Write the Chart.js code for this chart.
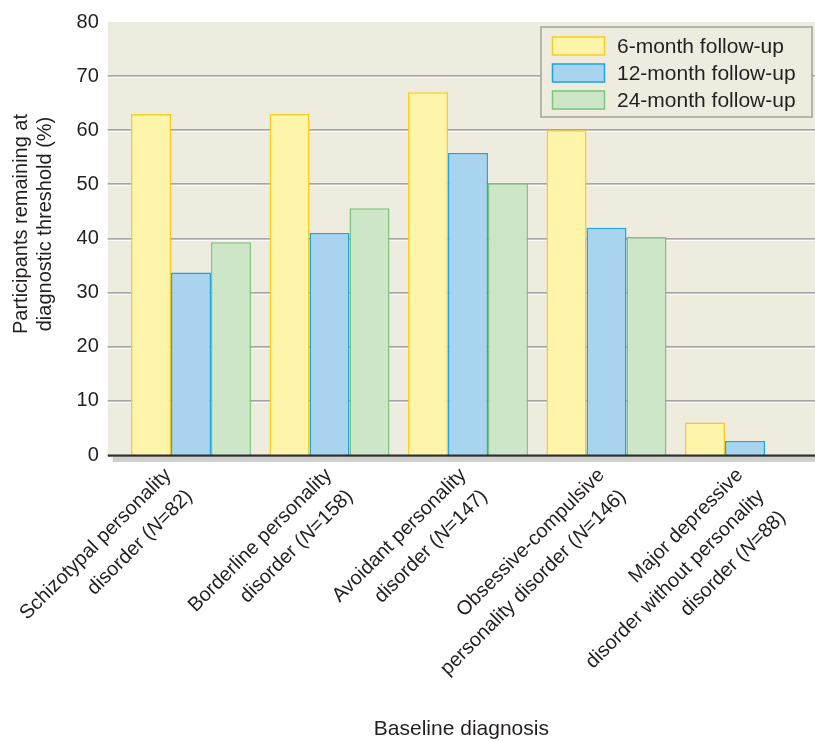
<!DOCTYPE html>
<html>
<head>
<meta charset="utf-8">
<script src="https://cdn.jsdelivr.net/npm/chart.js@4/dist/chart.umd.min.js"></script>
<style>
  html, body { margin: 0; padding: 0; background: #ffffff; }
  #wrap { width: 815px; height: 741px; position: relative; }
</style>
</head>
<body>
<div id="wrap"><canvas id="c" width="815" height="741"></canvas></div>
<script>
// Baseline diagnosis groups (label lines; a standalone "N" is set in italics)
const categories = [
  ['Schizotypal personality', 'disorder (N=82)'],
  ['Borderline personality', 'disorder (N=158)'],
  ['Avoidant personality', 'disorder (N=147)'],
  ['Obsessive-compulsive', 'personality disorder (N=146)'],
  ['Major depressive', 'disorder without personality', 'disorder (N=88)']
];

// Series names
const seriesNames = ['6-month follow-up', '12-month follow-up', '24-month follow-up'];

// Percent of participants remaining at diagnostic threshold
const sixMonth        = [63.0, 63.0, 67.0, 60.0, 6.0];
const twelveMonth     = [33.7, 41.0, 55.8, 42.0, 2.6];
const twentyFourMonth = [39.3, 45.6, 50.2, 40.3, 0.0];

// Value axis ticks
const yTicks = [0, 10, 20, 30, 40, 50, 60, 70, 80];

const xTitle = 'Baseline diagnosis';
const yTitle = ['Participants remaining at', 'diagnostic threshold (%)'];

const FONT = '"Liberation Sans", Arial, Helvetica, sans-serif';
const TEXT = '#231f20';
const PANEL = '#eeebdf';

const fills   = ['#fff5aa', '#a9d4ef', '#cde6c7'];
const borders = ['#fdcb1e', '#1ea5df', '#7cc57a'];

// small horizontal nudges for the slanted category labels
const labelNudge = [-18, 4, 0, 0, 0];

// Draws a line of text right-aligned at (x, y), italicising a lone "N"
function drawRich(ctx, text, x, y, size) {
  const parts = text.split(/(\bN\b)/).filter(p => p.length);
  const fontFor = p => (p === 'N' ? 'italic ' : '') + size + 'px ' + FONT;
  let total = 0;
  parts.forEach(p => { ctx.font = fontFor(p); total += ctx.measureText(p).width; });
  let cx = x - total;
  ctx.textAlign = 'left';
  parts.forEach(p => {
    ctx.font = fontFor(p);
    ctx.fillText(p, cx, y);
    cx += ctx.measureText(p).width;
  });
}

// Beige panel with engraved gridlines, drawn under the bars
const panelPlugin = {
  id: 'panel',
  beforeDatasetsDraw(chart) {
    const { ctx, chartArea, scales } = chart;
    const left = chartArea.left - 14;
    const right = chart.width;
    ctx.save();
    ctx.fillStyle = PANEL;
    ctx.fillRect(left, chartArea.top, right - left, chartArea.bottom - chartArea.top);
    yTicks.forEach(v => {
      if (v === yTicks[0] || v === yTicks[yTicks.length - 1]) return;
      const y = Math.round(scales.y.getPixelForValue(v));
      ctx.fillStyle = '#a6a6a4';
      ctx.fillRect(left, y - 1, right - left, 1.8);
      ctx.fillStyle = '#ffffff';
      ctx.fillRect(left, y + 0.8, right - left, 1);
    });
    ctx.restore();
  }
};

// Base line, category labels, titles and legend box
const decorPlugin = {
  id: 'decor',
  afterDatasetsDraw(chart) {
    const { ctx, chartArea, scales } = chart;
    const left = chartArea.left - 14;
    const right = chart.width;
    const y0 = scales.y.getPixelForValue(0);
    ctx.save();

    // shadow band under the base line
    ctx.fillStyle = '#cfcfcd';
    ctx.fillRect(left + 5, y0 + 1.5, right - left - 5, 5.5);
    // base line
    ctx.fillStyle = '#2e2e2e';
    ctx.fillRect(left, y0 - 0.5, right - left, 2.2);

    // rotated category labels
    ctx.fillStyle = TEXT;
    ctx.textBaseline = 'top';
    const lh = 30;
    categories.forEach((lines, i) => {
      const x = scales.x.getPixelForValue(i) + labelNudge[i];
      ctx.save();
      ctx.translate(x - 12, y0 + 10);
      ctx.rotate(-Math.PI / 4);
      lines.forEach((ln, j) => drawRich(ctx, ln, 0, j * lh, 20));
      ctx.restore();
    });

    // axis titles
    ctx.fillStyle = TEXT;
    ctx.textAlign = 'center';
    ctx.textBaseline = 'middle';
    ctx.font = '21px ' + FONT;
    ctx.fillText(xTitle, (left + right) / 2, 729);
    ctx.font = '20px ' + FONT;
    ctx.save();
    ctx.translate(21, 224);
    ctx.rotate(-Math.PI / 2);
    ctx.fillText(yTitle[0], 0, 0);
    ctx.fillText(yTitle[1], 0, 24);
    ctx.restore();

    // legend
    const bx = 541, by = 27, bw = 271, bh = 90;
    ctx.fillStyle = PANEL;
    ctx.fillRect(bx, by, bw, bh);
    ctx.strokeStyle = '#a4a398';
    ctx.lineWidth = 1.5;
    ctx.strokeRect(bx, by, bw, bh);
    chart.data.datasets.forEach((ds, k) => {
      const cy = 46 + k * 27;
      ctx.fillStyle = ds.backgroundColor;
      ctx.fillRect(552, cy - 9.5, 53, 19);
      ctx.strokeStyle = ds.borderColor;
      ctx.lineWidth = 1.5;
      ctx.strokeRect(552.5, cy - 9, 52, 18);
      ctx.fillStyle = TEXT;
      ctx.font = '21px ' + FONT;
      ctx.textAlign = 'left';
      ctx.textBaseline = 'middle';
      ctx.fillText(ds.label, 617, cy + 1);
    });

    ctx.restore();
  }
};

const series = [sixMonth, twelveMonth, twentyFourMonth];

new Chart(document.getElementById('c'), {
  type: 'bar',
  data: {
    labels: categories.map(l => l.join(' ')),
    datasets: series.map((vals, k) => ({
      label: seriesNames[k],
      data: vals,
      backgroundColor: fills[k],
      borderColor: borders[k],
      borderWidth: 1.5,
      categoryPercentage: 0.866,
      barPercentage: 1.0
    }))
  },
  options: {
    responsive: false,
    animation: false,
    devicePixelRatio: 1,
    layout: { padding: { top: 22, right: 0.75, left: 0, bottom: 0 } },
    plugins: { legend: { display: false }, tooltip: { enabled: false } },
    scales: {
      x: {
        ticks: { display: false },
        grid: { display: false, drawTicks: false },
        border: { display: false },
        afterFit(s) { s.height = 286; }
      },
      y: {
        min: yTicks[0],
        max: yTicks[yTicks.length - 1],
        afterBuildTicks(s) { s.ticks = yTicks.map(v => ({ value: v })); },
        ticks: {
          font: { family: FONT, size: 20 },
          color: TEXT,
          padding: 23
        },
        grid: { display: false, drawTicks: false },
        border: { display: false },
        afterFit(s) {
          s.width = 121.75;
          s.paddingTop = 0;
          s.paddingBottom = 0;
        }
      }
    }
  },
  plugins: [panelPlugin, decorPlugin]
});
</script>
</body>
</html>
